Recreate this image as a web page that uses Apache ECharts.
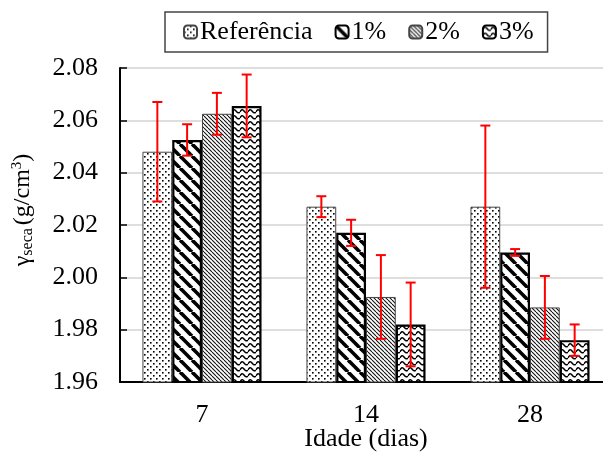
<!DOCTYPE html>
<html>
<head>
<meta charset="utf-8">
<script src="https://cdn.jsdelivr.net/npm/echarts@6/dist/echarts.min.js"></script>
<style>html,body{margin:0;padding:0;background:#fff;}#c{width:603px;height:452px;}</style>
</head>
<body>
<div id="c"></div>
<script>
const categories = ['7', '14', '28'];
const seriesNames = ['Referência', '1%', '2%', '3%'];
const refValues = [2.048, 2.027, 2.027];
const refErrors = [0.019, 0.004, 0.031];
const p1Values = [2.0525, 2.017, 2.0095];
const p1Errors = [0.006, 0.005, 0.0013];
const p2Values = [2.0625, 1.9925, 1.9885];
const p2Errors = [0.008, 0.016, 0.012];
const p3Values = [2.0655, 1.982, 1.976];
const p3Errors = [0.012, 0.016, 0.006];
const yTicks = [1.96, 1.98, 2.00, 2.02, 2.04, 2.06, 2.08];

const FONT = "'Liberation Serif', 'Times New Roman', serif";

function tile(w, h, draw) {
  const c = document.createElement('canvas');
  c.width = w; c.height = h;
  const ctx = c.getContext('2d');
  ctx.fillStyle = '#fff';
  ctx.fillRect(0, 0, w, h);
  draw(ctx, w, h);
  return { image: c, repeat: 'repeat' };
}
const patDots = tile(6, 6, (ctx) => {
  ctx.fillStyle = '#000';
  ctx.fillRect(0, 0, 1.6, 1.6);
  ctx.fillRect(3, 3, 1.6, 1.6);
});
const patThick = tile(12, 12, (ctx, w, h) => {
  ctx.strokeStyle = '#000'; ctx.lineWidth = 3.6;
  for (let k = -1; k <= 1; k++) {
    ctx.beginPath(); ctx.moveTo(k * w, 0); ctx.lineTo(k * w + w, h); ctx.stroke();
  }
});
const patThin = tile(4, 4, (ctx, w, h) => {
  ctx.strokeStyle = '#111'; ctx.lineWidth = 1.1;
  for (let k = -1; k <= 1; k++) {
    ctx.beginPath(); ctx.moveTo(k * w, 0); ctx.lineTo(k * w + w, h); ctx.stroke();
  }
});
const patWave = tile(8, 6, (ctx, w, h) => {
  ctx.strokeStyle = '#000'; ctx.lineWidth = 1.4;
  ctx.beginPath();
  ctx.moveTo(0, 4);
  ctx.quadraticCurveTo(2, 0, 4, 3);
  ctx.quadraticCurveTo(6, 6, 8, 4);
  ctx.stroke();
});

const values = [refValues, p1Values, p2Values, p3Values];
const errors = [refErrors, p1Errors, p2Errors, p3Errors];
const patterns = [patDots, patThick, patThin, patWave];
const borders = [[1, '#444'], [2.2, '#000'], [1, '#444'], [2.2, '#000']];
const CAT_GAP = 0.274;

const series = [];
seriesNames.forEach((name, si) => {
  series.push({
    name: name,
    type: 'bar',
    data: values[si],
    barGap: '0%',
    barCategoryGap: (CAT_GAP * 100) + '%',
    itemStyle: { color: patterns[si], borderColor: borders[si][1], borderWidth: borders[si][0] },
    emphasis: { disabled: true },
    z: 2
  });
});
seriesNames.forEach((name, si) => {
  series.push({
    name: name + ' erro',
    type: 'custom',
    z: 5,
    data: values[si].map((v, i) => [i, v, errors[si][i]]),
    renderItem: function (params, api) {
      const ci = api.value(0), v = api.value(1), e = api.value(2);
      const band = api.size([1, 0])[0];
      const bw = band * (1 - CAT_GAP) / 4;
      const x = api.coord([ci, v])[0] + (si - 1.5) * bw;
      const yt = api.coord([ci, v + e])[1];
      const yb = api.coord([ci, v - e])[1];
      const st = { stroke: '#ff0000', lineWidth: 2 };
      return {
        type: 'group',
        children: [
          { type: 'line', shape: { x1: x, y1: yt, x2: x, y2: yb }, style: st },
          { type: 'line', shape: { x1: x - 5, y1: yt, x2: x + 5, y2: yt }, style: st },
          { type: 'line', shape: { x1: x - 5, y1: yb, x2: x + 5, y2: yb }, style: st }
        ]
      };
    }
  });
});

const chart = echarts.init(document.getElementById('c'), null, { renderer: 'canvas' });
chart.setOption({
  animation: false,
  backgroundColor: '#fff',
  textStyle: { fontFamily: FONT },
  legend: {
    data: seriesNames,
    left: 165,
    top: 12,
    padding: [7, 14, 7, 18],
    itemGap: 22,
    itemWidth: 13,
    itemHeight: 13,
    borderColor: '#444',
    borderWidth: 1.5,
    textStyle: { fontFamily: FONT, fontSize: 26, color: '#000', padding: [0, 0, 0, -2] }
  },
  grid: { left: 120, top: 68, width: 492, height: 314, containLabel: false, outerBoundsMode: 'none' },
  xAxis: {
    type: 'category',
    data: categories,
    name: 'Idade (dias)',
    nameLocation: 'middle',
    nameGap: 44,
    nameMoveOverlap: false,
    nameTextStyle: { fontFamily: FONT, fontSize: 26, color: '#000' },
    axisLine: { lineStyle: { color: '#000', width: 2 } },
    axisTick: { show: false },
    axisLabel: { fontFamily: FONT, fontSize: 26, color: '#000', margin: 20 }
  },
  yAxis: {
    type: 'value',
    min: yTicks[0],
    max: yTicks[yTicks.length - 1],
    interval: 0.02,
    name: '{g|γ}{s|seca}{n|(g/cm}{p|3}{n|)}',
    nameLocation: 'middle',
    nameRotate: 90,
    nameGap: 84,
    nameMoveOverlap: false,
    nameTextStyle: {
      fontFamily: FONT, color: '#000', padding: [0, 0, 0, 30],
      rich: {
        g: { fontFamily: FONT, fontSize: 24, color: '#000', verticalAlign: 'middle', lineHeight: 26 },
        s: { fontFamily: FONT, fontSize: 16, color: '#000', verticalAlign: 'bottom', lineHeight: 26, padding: [0, 3, 0, 0] },
        n: { fontFamily: FONT, fontSize: 24, color: '#000', verticalAlign: 'middle', lineHeight: 26 },
        p: { fontFamily: FONT, fontSize: 15, color: '#000', verticalAlign: 'top', lineHeight: 26 }
      }
    },
    axisLine: { show: true, lineStyle: { color: '#000', width: 2 } },
    axisTick: { show: true, inside: true, length: 7, lineStyle: { color: '#000', width: 1.5 } },
    axisLabel: { fontFamily: FONT, fontSize: 26, color: '#000', margin: 22, formatter: (v) => v.toFixed(2) },
    splitLine: { show: true, lineStyle: { color: '#d3d3d3', width: 1.5 } }
  },
  series: series
});
</script>
</body>
</html>
